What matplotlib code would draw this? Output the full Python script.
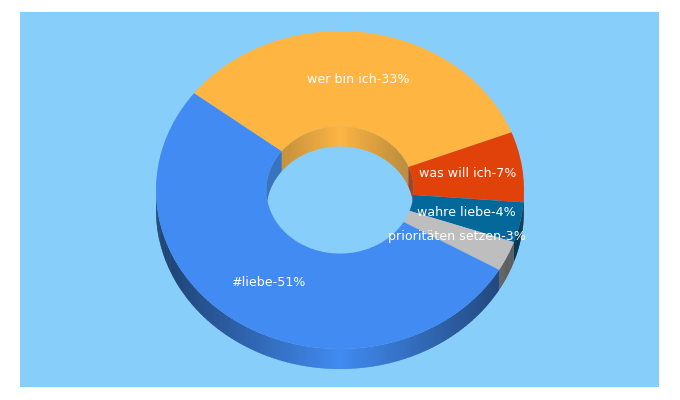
import numpy as np
import matplotlib
matplotlib.use("Agg")
import matplotlib.pyplot as plt
from matplotlib.patches import Polygon
from matplotlib.colors import to_rgb

# Data
categories = ["wer bin ich", "was will ich", "wahre liebe", "prioritäten setzen", "#liebe"]
values = [33, 7, 4, 3, 51]
colors = ["#FFB541", "#E0420A", "#05689A", "#BEBEBE", "#418BF2"]
background = "#87CEFB"
start_angle = 142.5

W, H = 680, 400
PANEL = (20, 12, 659, 387)   # left, top, right, bottom in px
CX, CY, RX, RY = 340, 190, 184, 159
DEPTH = 20 / RY              # depth in data units
HOLE = 0.4

fig = plt.figure(figsize=(W / 100, H / 100), dpi=100, facecolor="white")
ax = fig.add_axes([PANEL[0] / W, 1 - PANEL[3] / H,
                   (PANEL[2] - PANEL[0]) / W, (PANEL[3] - PANEL[1]) / H])


def side_wall(radius, t0, t1, rgb, strength, zorder):
    """Shaded wall of one slice between angles t0..t1 (degrees).
    Each strip runs a little under the next one, so no seams show."""
    if t1 <= t0:
        return
    n = max(1, int(round((t1 - t0) * 1.5)))
    edges = np.linspace(t0, t1, n + 1)
    step = edges[1] - edges[0]
    for i in range(n):
        a, b = edges[i], min(edges[i + 1] + step * 0.6, t1)
        t = np.radians(np.linspace(a, b, 4))
        x, y = radius * np.cos(t), radius * np.sin(t)
        pts = np.vstack([np.column_stack([x, y]),
                         np.column_stack([x[::-1], y[::-1] - DEPTH])])
        xm = radius * np.cos(np.radians(0.5 * (edges[i] + edges[i + 1])))
        col = np.array(rgb) * (1 - strength * abs(xm) / radius)
        ax.add_patch(Polygon(pts, closed=True, facecolor=col, edgecolor="none",
                             linewidth=0, zorder=zorder))


# Slice angles (clockwise from the start angle)
fractions = np.array(values, dtype=float) / sum(values)
ends = start_angle - np.cumsum(fractions) * 360
starts = np.concatenate(([start_angle], ends[:-1]))

for hi, lo, col in zip(starts, ends, colors):
    rgb = to_rgb(col)
    # the outer wall shows on the lower half of the ring, the inner wall on the upper
    for k in (-2, -1, 0):
        a, b = max(lo, 180 + 360 * k), min(hi, 360 + 360 * k)
        side_wall(1.0, a, b, rgb, 0.55, 1)
    for k in (-1, 0, 1):
        a, b = max(lo, 360 * k), min(hi, 180 + 360 * k)
        side_wall(HOLE, a, b, rgb, 0.27, 1)

wedges, _ = ax.pie(values, colors=colors, startangle=start_angle, counterclock=False,
                   radius=1, wedgeprops=dict(width=1 - HOLE, linewidth=0, zorder=2))

# Labels sit on the middle of the ring
for w, name, val in zip(wedges, categories, values):
    mid = np.radians(0.5 * (w.theta1 + w.theta2))
    ax.text(0.7 * np.cos(mid), 0.7 * np.sin(mid), f"{name}-{val}%", color="white",
            ha="center", va="center", fontsize=9.05, family="DejaVu Sans", zorder=5)

ax.set_aspect("auto")
ax.set_xlim((PANEL[0] - CX) / RX, (PANEL[2] - CX) / RX)
ax.set_ylim((CY - PANEL[3]) / RY, (CY - PANEL[1]) / RY)
ax.set_frame_on(True)
ax.set_facecolor(background)
for s in ax.spines.values():
    s.set_visible(False)

fig.savefig("out.png", dpi=100, facecolor="white")
